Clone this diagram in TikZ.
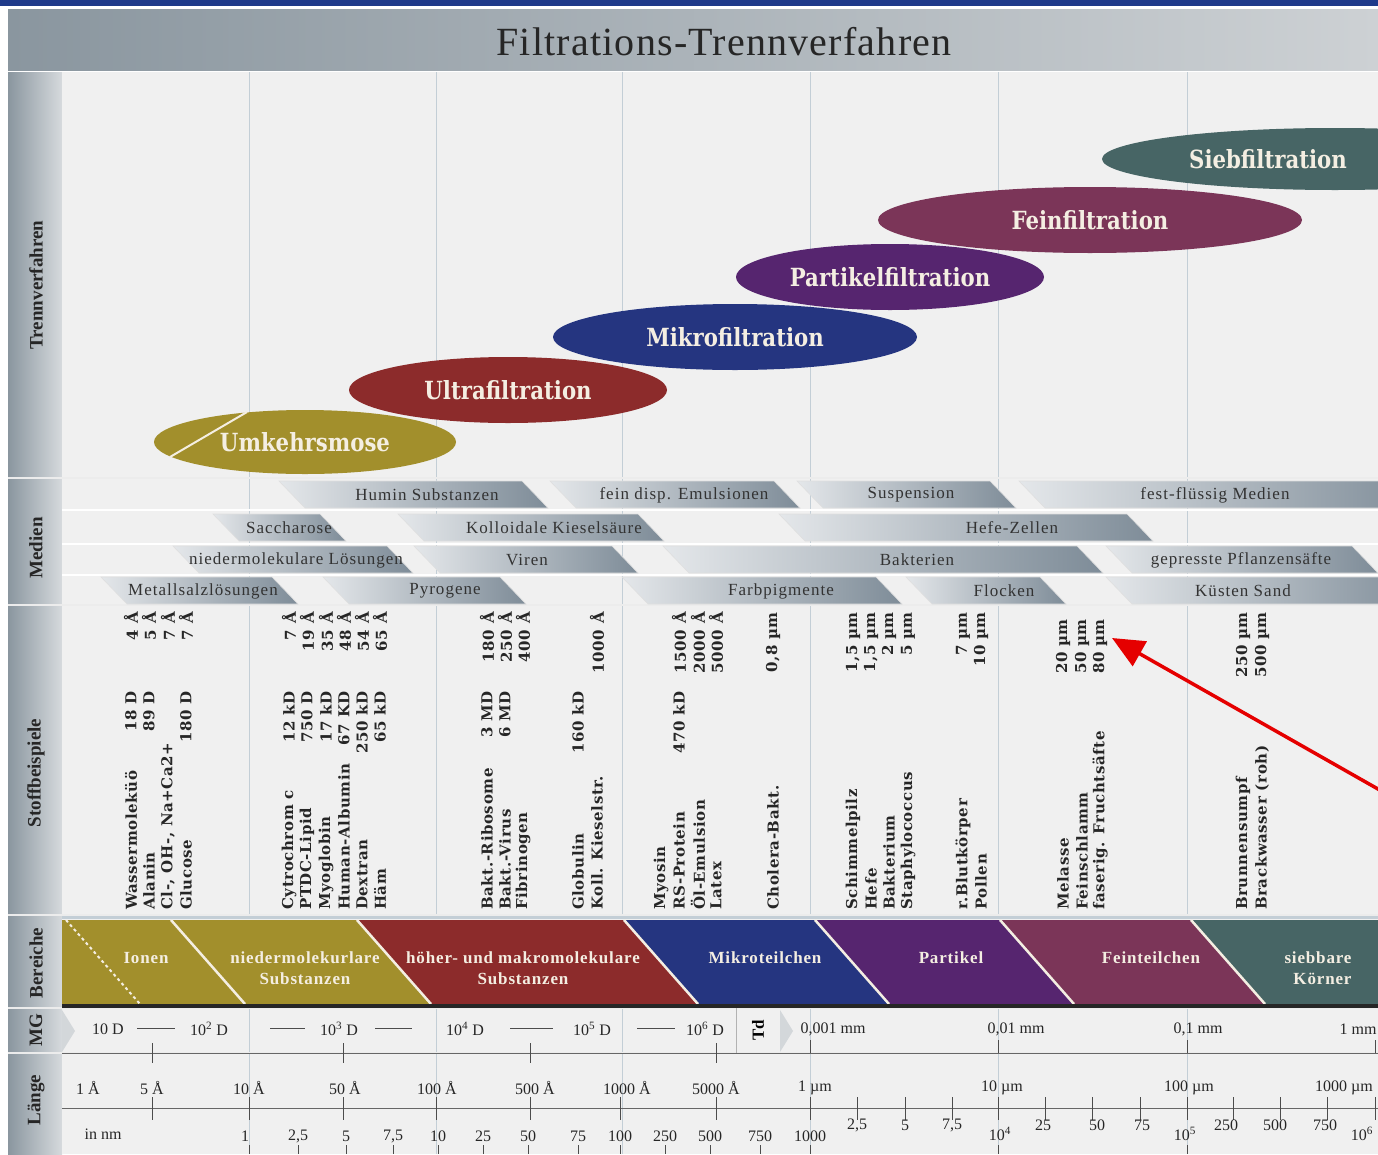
\documentclass[tikz,border=0pt]{standalone}
\usepackage{fontspec}
\setmainfont{Liberation Serif}
\newfontfamily\titelfont[LetterSpace=3]{Liberation Serif}
\newfontfamily\medfont[LetterSpace=6]{Liberation Serif}
\newfontfamily\berfont[LetterSpace=5]{Liberation Serif}
\newfontfamily\slabfont[FakeStretch=0.85]{DejaVu Serif}
\newfontfamily\stofffont[LetterSpace=4]{DejaVu Serif}
\usepackage{tikz}
\usetikzlibrary{positioning}
\usetikzlibrary{shapes.geometric,arrows.meta}

\definecolor{navy}{HTML}{1F3A8A}
\definecolor{umkehr}{HTML}{A28F2C}
\definecolor{ultra}{HTML}{8C2B2B}
\definecolor{mikro}{HTML}{253580}
\definecolor{partikel}{HTML}{56256F}
\definecolor{fein}{HTML}{7B3558}
\definecolor{sieb}{HTML}{476565}
\definecolor{creme}{HTML}{F4EEE2}
\definecolor{grund}{HTML}{F0F0F0}
\definecolor{gitter}{HTML}{C3CED6}
\definecolor{medL}{HTML}{E4E7EA}
\definecolor{medM}{HTML}{B7C0C8}
\definecolor{medR}{HTML}{7E8C98}
\definecolor{seiteL}{HTML}{8A969F}
\definecolor{seiteR}{HTML}{D6DADD}
\definecolor{titelR}{HTML}{CDD1D4}
\definecolor{keil}{HTML}{D3D7DA}

\begin{document}
\begin{tikzpicture}[x=1pt, y=-1pt,
    verfahren/.style = {ellipse, inner sep=0pt, text=creme, font=\slabfont\bfseries\fontsize{25}{28}\selectfont},
    medium/.style = {left color=medL, middle color=medM, right color=medR, draw=white!75!gray, line width=0.6pt},
    mtext/.style = {inner sep=1pt, text=black!80, font=\medfont\fontsize{17}{19}\selectfont},
    stoff/.style = {rotate=90, inner sep=0pt, text=black!85, font=\stofffont\bfseries\fontsize{15}{17}\selectfont},
    bereich/.style = {align=center, inner sep=1pt, text=creme, font=\berfont\bfseries\fontsize{17}{21}\selectfont},
    seite/.style = {rotate=90, text=black!85, font=\bfseries\fontsize{19}{21}\selectfont},
    skala/.style = {inner sep=1pt, text=black!85, font=\fontsize{16}{18}\selectfont},
    strich/.style = {black!70, line width=0.8pt},
    zeiger/.style = {red!90!black, line width=3.5pt, -{Triangle[length=32pt,width=28pt]}}]
    \useasboundingbox (0,0) rectangle (1378,1154);
    \clip (0,0) rectangle (1378,1154);
    % Frame
    \fill[white] (0,0) rectangle (1378,1154);
    \fill[navy] (0,0) rectangle (1378,6);
    \shade[left color=seiteL, right color=titelR] (8,9) rectangle (1378,70);
    \shade[left color=seiteL, right color=seiteR] (8,72) rectangle (62,1154);
    \fill[grund] (62,72) rectangle (1378,1154);
    \node[font=\titelfont\fontsize{40}{44}\selectfont, text=black!85] (titel) at (724,42) {Filtrations-Trennverfahren};
    % Grid
    \foreach \gx in {249,436,622,810,998,1187}
        \draw[gitter, line width=1pt] (\gx,72) -- (\gx,915);
    \foreach \gx in {249,436,622,810,998,1187}
        \draw[gitter, line width=1pt] (\gx,1008) -- (\gx,1154);
    \foreach \gy in {510,544,575}
        \draw[white, line width=1.2pt] (62,\gy) -- (1378,\gy);
    \foreach \gy in {478,605,915,1008,1053}
        \draw[white!85!gray, line width=1.5pt] (8,\gy) -- (1378,\gy);
    % Side labels
    \node[seite] (trenn) at (36,285) {Trennverfahren};
    \node[seite] (medien) at (36,548) {Medien};
    \node[seite] (stoffb) at (36,773) {Stoffbeispiele};
    \node[seite] (bereiche) at (36,963) {Bereiche};
    \node[seite] (mg) at (36,1030) {MG};
    \node[seite] (laenge) at (36,1100) {Länge};
    % Trennverfahren
    \node[verfahren, fill=sieb, minimum width=466pt, minimum height=62pt] (siebfiltration) at (1335,159) {};
    \node[verfahren] (siebtext) at (1268,159) {Siebfiltration};
    \node[verfahren, fill=fein, minimum width=424pt, minimum height=66pt] (feinfiltration) at (1090,220) {Feinfiltration};
    \node[verfahren, fill=partikel, minimum width=308pt, minimum height=66pt] (partikelfiltration) at (890,277) {Partikelfiltration};
    \node[verfahren, fill=mikro, minimum width=364pt, minimum height=66pt] (mikrofiltration) at (735,337) {Mikrofiltration};
    \node[verfahren, fill=ultra, minimum width=318pt, minimum height=66pt] (ultrafiltration) at (508,390) {Ultrafiltration};
    \node[verfahren, fill=umkehr, minimum width=302pt, minimum height=64pt] (umkehrsmose) at (305,442) {Umkehrsmose};
    \draw[creme, line width=2pt] (170,457) -- (247,412);
    % Medien
    \foreach \xa/\xb/\yy/\xt/\nm/\txt in {
        279/522/481/427/humin/Humin Substanzen,
        550/774/481/684/emulsion/fein disp. Emulsionen,
        797/990/481/911/suspension/Suspension,
        1019/1400/481/1215/festfl/fest-flüssig Medien,
        213/320/514/289/saccharose/Saccharose,
        398/638/514/554/kieselsaeure/Kolloidale Kieselsäure,
        779/1127/514/1012/hefe/Hefe-Zellen,
        173/387/546/296/nmloesung/niedermolekulare Lösungen,
        414/612/546/527/viren/Viren,
        663/1077/546/917/bakterien/Bakterien,
        1106/1352/546/1241/pflanzen/gepresste Pflanzensäfte,
        101/272/577/203/metallsalz/Metallsalzlösungen,
        323/500/577/445/pyrogene/Pyrogene,
        622/876/577/781/farbpigmente/Farbpigmente,
        906/1040/577/1004/flocken/Flocken,
        1106/1400/577/1243/kuesten/Küsten Sand}
    {
        \shade[medium] (\xa,\yy) -- (\xb,\yy) -- (\xb+26,\yy+27) -- (\xa+26,\yy+27) -- cycle;
        \node[mtext] (\nm) at (\xt,\yy+14) {\txt};
    }
    % Stoffbeispiele
    \foreach \sx/\stxt [count=\i] in {131/Wassermoleküö, 149/Alanin, 168/{Cl-, OH-, Na+Ca2+}, 186/Glucose,
        289/Cytrochrom c, 307/PTDC-Lipid, 326/Myoglobin, 344/Human-Albumin, 362/Dextran, 380/Häm,
        487/Bakt.-Ribosome, 505/Bakt.-Virus, 523/Fibrinogen, 578/Globulin, 597/Koll. Kieselstr.,
        661/Myosin, 679/RS-Protein, 698/Öl-Emulsion, 716/Latex, 773/Cholera-Bakt.,
        853/Schimmelpilz, 871/Hefe, 889/Bakterium, 908/Staphylococcus, 963/r.Blutkörper, 981/Pollen,
        1063/Melasse, 1082/Feinschlamm, 1100/faserig. Fruchtsäfte, 1243/Brunnensumpf, 1262/Brackwasser (roh)}
        \node[stoff, anchor=west] (stoff\i) at (\sx,910) {\stxt};
    \foreach \sx/\stxt [count=\i] in {131/18 D, 149/89 D, 186/180 D, 289/12 kD, 307/750 D, 326/17 kD,
        344/67 KD, 362/250 kD, 380/65 kD, 487/3 MD, 505/6 MD, 578/160 kD, 679/470 kD}
        \node[stoff, anchor=east] (masse\i) at (\sx,691) {\stxt};
    \foreach \sx/\sy/\stxt [count=\i] in {131/612/4 Å, 149/612/5 Å, 168/612/7 Å, 186/612/7 Å,
        289/612/7 Å, 307/612/19 Å, 326/612/35 Å, 344/612/48 Å, 362/612/54 Å, 380/612/65 Å,
        487/612/180 Å, 505/612/250 Å, 523/612/400 Å, 597/612/1000 Å,
        679/612/1500 Å, 698/612/2000 Å, 716/612/5000 Å, 773/612/{0,8 µm},
        853/612/{1,5 µm}, 871/612/{1,5 µm}, 889/612/2 µm, 908/612/5 µm, 963/612/7 µm, 981/612/10 µm,
        1063/619/20 µm, 1082/619/50 µm, 1100/619/80 µm, 1243/612/250 µm, 1262/612/500 µm}
        \node[stoff, anchor=east] (groesse\i) at (\sx,\sy) {\stxt};
    % Bereiche
    \fill[umkehr] (62,920) rectangle (1378,1004);
    \foreach \bx/\bc in {357/ultra, 624/mikro, 815/partikel, 1000/fein, 1191/sieb}
        \fill[\bc] (\bx,920) -- (1400,920) -- (1400,1004) -- (\bx+74,1004) -- cycle;
    \foreach \bx in {171,357,624,815,1000,1191}
        \draw[creme, line width=2.5pt] (\bx,920) -- (\bx+74,1004);
    \draw[creme, line width=2pt, dashed] (66,920) -- (140,1004);
    \draw[gitter, line width=3pt] (62,917) -- (1378,917);
    \draw[black!85, line width=4pt] (62,1006) -- (1378,1006);
    \node[bereich] (ionen) at (146,958) {Ionen};
    \node[bereich] (niedermol) at (305,968) {niedermolekurlare\\Substanzen};
    \node[bereich] (hoeher) at (523,968) {höher- und makromolekulare\\Substanzen};
    \node[bereich] (mikroteil) at (765,958) {Mikroteilchen};
    \node[bereich] (partikel) at (951,958) {Partikel};
    \node[bereich] (feinteil) at (1151,958) {Feinteilchen};
    \node[bereich, align=right] (koerner) at (1318,968) {siebbare\\Körner};
    % MG
    \fill[keil] (62,1010) -- (75,1031) -- (62,1052) -- cycle;
    \draw[black!30, line width=1pt] (736,1008) -- (736,1053);
    \fill[keil] (780,1010) -- (793,1031) -- (780,1052) -- cycle;
    \node[rotate=90, font=\bfseries\fontsize{17}{19}\selectfont] (td) at (758,1030) {Td};
    \foreach \mx/\mtxt [count=\i] in {108/10 D, 209/10\textsuperscript{2} D, 339/10\textsuperscript{3} D,
        465/10\textsuperscript{4} D, 592/10\textsuperscript{5} D, 705/10\textsuperscript{6} D,
        833/{0,001 mm}, 1016/{0,01 mm}, 1198/{0,1 mm}, 1358/1 mm}
        \node[skala] (mg\i) at (\mx,1029) {\mtxt};
    \foreach \da/\db in {137/175, 270/305, 375/412, 510/553, 637/675}
        \draw[strich] (\da,1028) -- (\db,1028);
    \draw[black!60, line width=1pt] (62,1053) -- (1378,1053);
    \foreach \tx in {152,343,530,716}
        \draw[strich] (\tx,1043) -- (\tx,1063);
    \foreach \tx in {810,998,1187,1375}
        \draw[strich] (\tx,1040) -- (\tx,1053);
    % Laenge
    \foreach \lx/\ltxt [count=\i] in {88/1 Å, 152/5 Å, 249/10 Å, 345/50 Å, 437/100 Å, 535/500 Å,
        627/1000 Å, 716/5000 Å, 815/1 µm, 1002/10 µm, 1189/100 µm, 1344/1000 µm}
        \node[skala] (len\i) at (\lx,1088) {\ltxt};
    \draw[black!60, line width=1pt] (62,1108) -- (1378,1108);
    \foreach \tx in {152,249,343,436,530,620,716,810,857,905,952,998,1045,1092,1140,1187,1233,1280,1327,1375}
        \draw[strich] (\tx,1097) -- (\tx,1120);
    \node[skala] (innm) at (103,1134) {in nm};
    \foreach \nx/\ny/\ntxt [count=\i] in {245/1136/1, 298/1136/{2,5}, 346/1136/5, 393/1136/{7,5},
        438/1136/10, 483/1136/25, 528/1136/50, 578/1136/75, 620/1136/100, 665/1136/250,
        710/1136/500, 760/1136/750, 810/1136/1000, 857/1125/{2,5}, 905/1125/5, 952/1125/{7,5},
        1000/1134/10\textsuperscript{4}, 1043/1125/25, 1097/1125/50, 1142/1125/75,
        1185/1134/10\textsuperscript{5}, 1226/1125/250, 1275/1125/500, 1325/1125/750,
        1362/1134/10\textsuperscript{6}}
        \node[skala] (nm\i) at (\nx,\ny) {\ntxt};
    \foreach \tx in {249,298,346,393,438,483,528,578,620,665,710,760,810,998,1187}
        \draw[strich] (\tx,1145) -- (\tx,1154);
    % Arrow
    \coordinate (pfeilstart) at (1385,793);
    \coordinate (pfeilziel) at (1112,638);
    \draw[zeiger] (pfeilstart) -- (pfeilziel);
\end{tikzpicture}
\end{document}
